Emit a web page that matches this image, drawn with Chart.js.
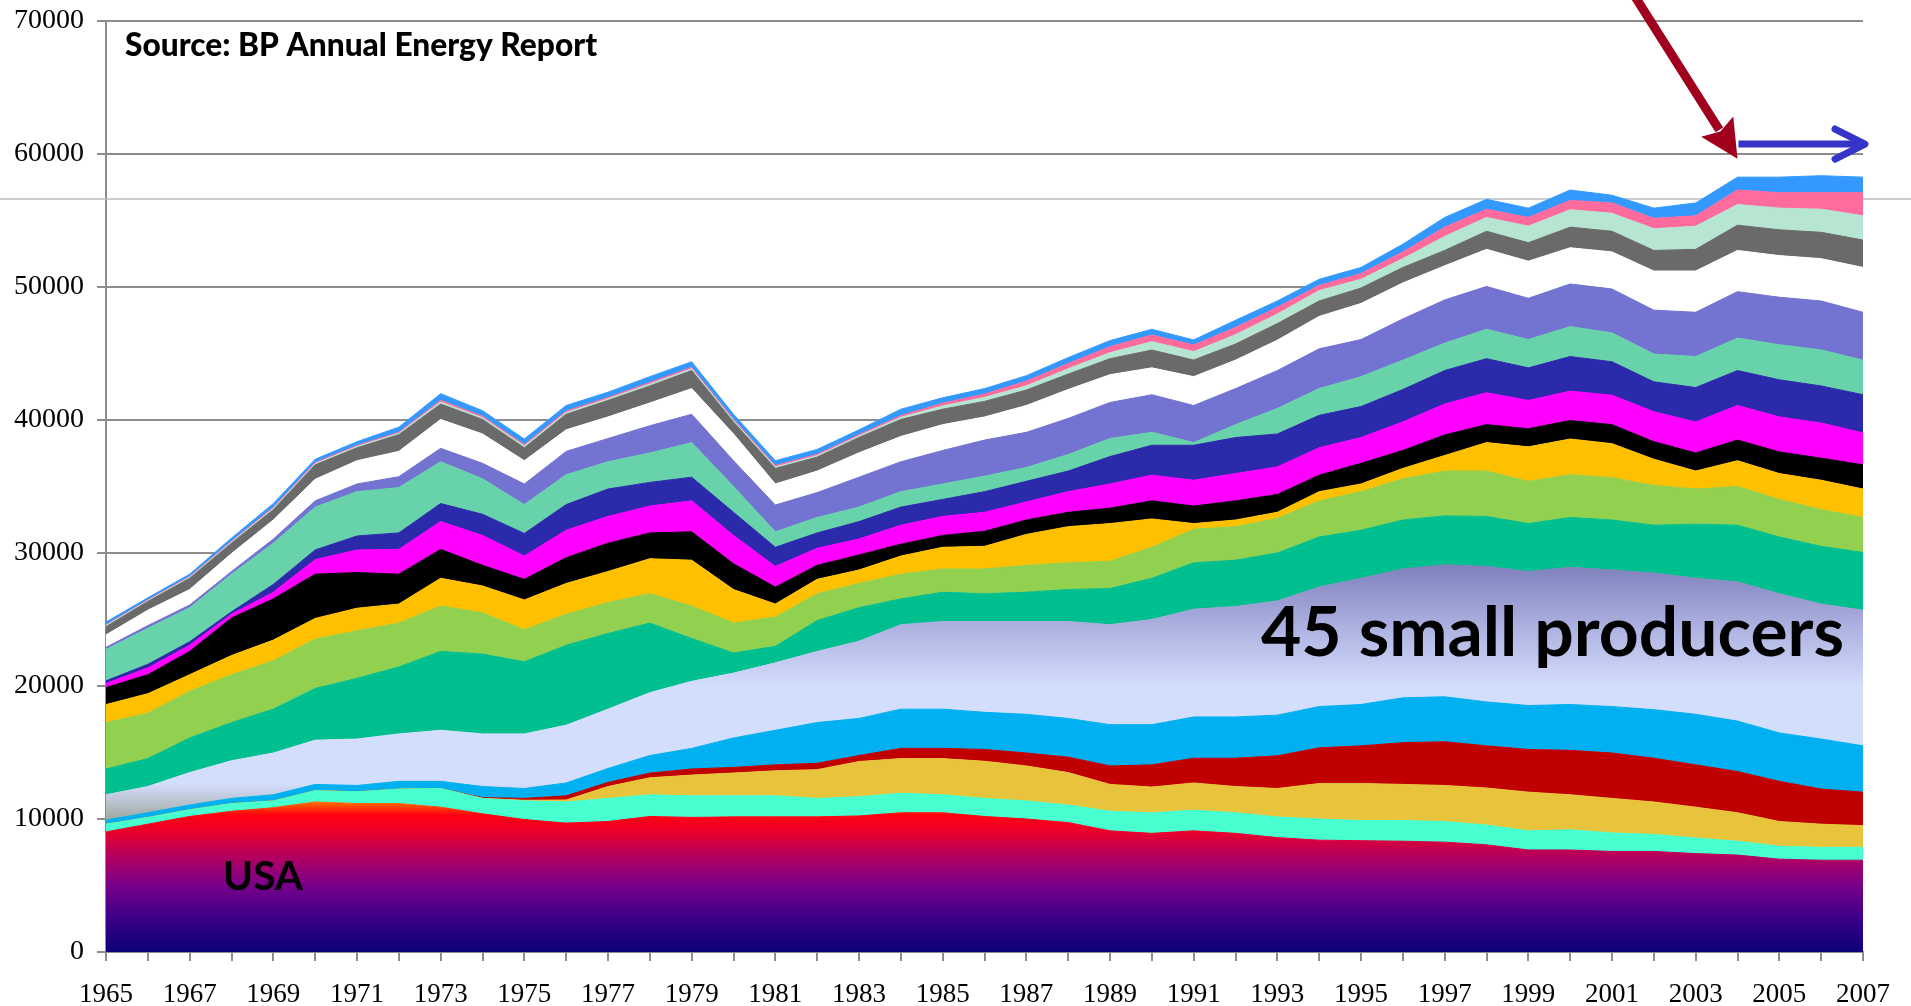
<!DOCTYPE html>
<html>
<head>
<meta charset="utf-8">
<title>Oil production by country 1965-2007</title>
<script src="https://cdn.jsdelivr.net/npm/chart.js@4.4.1/dist/chart.umd.min.js"></script>
<style>
  html, body { margin: 0; padding: 0; background: #fff; }
  #wrap { width: 1911px; height: 1006px; position: relative; }
</style>
</head>
<body>
<div id="wrap"><canvas id="oilChart"></canvas></div>
<script>
// thousand barrels per day, stacked bottom to top
const years = ['1965','1966','1967','1968','1969','1970','1971','1972','1973','1974',
               '1975','1976','1977','1978','1979','1980','1981','1982','1983','1984',
               '1985','1986','1987','1988','1989','1990','1991','1992','1993','1994',
               '1995','1996','1997','1998','1999','2000','2001','2002','2003','2004',
               '2005','2006','2007'];

const usa = [9030, 9610, 10190, 10580, 10850, 11280, 11160, 11160, 10890, 10390,
             9960, 9690, 9810, 10190, 10120, 10160, 10160, 10160, 10230, 10470,
             10470, 10190, 10000, 9730, 9110, 8920, 9110, 8920, 8600, 8410,
             8370, 8330, 8260, 8060, 7670, 7670, 7560, 7560, 7400, 7290,
             6980, 6900, 6900];
const indonesia = [580, 510, 510, 580, 510, 850, 890, 1090, 1400, 1160,
                   1400, 1590, 1740, 1630, 1620, 1580, 1580, 1390, 1440, 1470,
                   1350, 1360, 1360, 1320, 1470, 1550, 1550, 1550, 1550, 1590,
                   1510, 1550, 1550, 1480, 1440, 1520, 1390, 1280, 1170, 1040,
                   970, 970, 970];
const uk = [0, 0, 0, 0, 0, 0, 0, 0, 0, 0,
            50, 150, 890, 1280, 1560, 1720, 1880, 2160, 2650, 2600,
            2720, 2790, 2630, 2440, 2020, 1930, 2050, 1970, 2140, 2670,
            2790, 2720, 2710, 2790, 2910, 2630, 2600, 2440, 2320, 2140,
            1860, 1740, 1630];
const norway = [0, 0, 0, 0, 0, 0, 0, 0, 0, 60,
                140, 310, 310, 350, 460, 420, 450, 480, 450, 770,
                770, 890, 970, 1160, 1390, 1670, 1860, 2130, 2460, 2680,
                2830, 3140, 3290, 3170, 3210, 3340, 3410, 3290, 3180, 3100,
                3020, 2640, 2520];
const mexico = [310, 350, 350, 390, 460, 470, 470, 580, 540, 830,
                740, 970, 1050, 1320, 1550, 2210, 2600, 3060, 2790, 2950,
                2950, 2790, 2910, 2910, 3100, 3020, 3100, 3100, 3060, 3100,
                3110, 3370, 3380, 3300, 3300, 3450, 3490, 3650, 3800, 3790,
                3640, 3760, 3480];
const smallProducers = [1900, 1970, 2440, 2830, 3140, 3330, 3490, 3570, 3840, 3960,
                        4110, 4340, 4460, 4730, 5040, 4880, 5070, 5350, 5810, 6350,
                        6590, 6830, 6980, 7290, 7520, 7910, 8110, 8300, 8590, 8990,
                        9490, 9690, 9920, 10190, 10080, 10310, 10270, 10270, 10230, 10470,
                        10470, 10150, 10200];
const iran = [1940, 2100, 2600, 2870, 3300, 3880, 4570, 5030, 5930, 6000,
              5420, 6010, 5690, 5230, 3220, 1510, 1240, 2320, 2520, 1940,
              2200, 2090, 2200, 2400, 2720, 3100, 3480, 3490, 3600, 3760,
              3610, 3680, 3680, 3760, 3600, 3750, 3760, 3600, 4070, 4260,
              4260, 4340, 4340];
const venezuela = [3490, 3410, 3520, 3600, 3640, 3720, 3570, 3300, 3410, 3100,
                   2410, 2330, 2330, 2210, 2440, 2250, 2210, 2020, 1820, 1860,
                   1750, 1860, 2020, 2010, 2050, 2330, 2520, 2520, 2600, 2720,
                   2900, 3100, 3370, 3410, 3180, 3220, 3180, 2990, 2640, 2910,
                   2830, 2760, 2630];
const iraq = [1350, 1470, 1240, 1440, 1550, 1550, 1700, 1430, 2090, 2020,
              2240, 2320, 2330, 2630, 3450, 2520, 970, 1080, 1010, 1360,
              1630, 1700, 2330, 2720, 2830, 2130, 430, 500, 460, 690,
              580, 780, 1170, 2140, 2590, 2680, 2560, 1970, 1350, 1940,
              1940, 2210, 2140];
const libya = [1280, 1430, 1750, 2830, 3100, 3330, 2680, 2250, 2170, 1550,
               1550, 1940, 2130, 1940, 2130, 1940, 1280, 1050, 1130, 890,
               890, 1130, 1080, 1080, 1160, 1360, 1320, 1440, 1340, 1240,
               1550, 1350, 1550, 1350, 1360, 1390, 1430, 1320, 1360, 1550,
               1630, 1660, 1820];
const nigeria = [310, 510, 460, 270, 500, 1090, 1700, 1860, 2090, 2250,
                 1750, 2060, 2010, 2020, 2330, 2130, 1550, 1280, 1200, 1430,
                 1430, 1430, 1360, 1550, 1820, 1930, 1940, 2050, 2070, 2060,
                 1940, 2140, 2320, 2400, 2130, 2210, 2210, 2250, 2330, 2600,
                 2630, 2640, 2400];
const uae = [200, 270, 270, 190, 590, 730, 1050, 1240, 1360, 1590,
             1700, 1930, 2060, 1780, 1780, 1740, 1440, 1160, 1310, 1360,
             1280, 1550, 1550, 1550, 2060, 2250, 2630, 2710, 2480, 2440,
             2330, 2440, 2520, 2560, 2450, 2600, 2520, 2250, 2590, 2630,
             2790, 2790, 2870];
const kuwait = [2360, 2710, 2560, 2830, 3100, 3220, 3330, 3410, 3140, 2670,
                2170, 2250, 2050, 2210, 2600, 1940, 1160, 1160, 1090, 1160,
                1160, 1170, 1040, 1240, 1360, 970, 200, 970, 1920, 2010,
                2250, 2210, 2060, 2210, 2130, 2250, 2170, 2090, 2330, 2440,
                2640, 2710, 2600];
const china = [160, 200, 200, 200, 310, 470, 580, 820, 1010, 1160,
               1550, 1750, 1750, 2050, 2130, 1940, 2020, 1870, 2250, 2250,
               2520, 2710, 2640, 2720, 2710, 2830, 2790, 2710, 2850, 2990,
               2790, 3100, 3250, 3220, 3100, 3210, 3300, 3300, 3330, 3490,
               3570, 3680, 3600];
const canada = [930, 1160, 1160, 1350, 1430, 1620, 1750, 1900, 2170, 2210,
                1750, 1620, 1620, 1710, 1930, 2010, 1580, 1620, 1830, 1900,
                1940, 1740, 2020, 2170, 2090, 2020, 2170, 2140, 2280, 2440,
                2710, 2710, 2560, 2790, 2790, 2720, 2790, 2940, 3100, 3100,
                3130, 3180, 3370];
const algeria = [620, 660, 850, 780, 780, 1090, 970, 1260, 1160, 1090,
                 970, 1170, 1240, 1280, 1360, 900, 1170, 1050, 1160, 1280,
                 1160, 1170, 1160, 1160, 1200, 1340, 1250, 1210, 1250, 1160,
                 1160, 1160, 1160, 1360, 1390, 1550, 1550, 1550, 1630, 1900,
                 1940, 1980, 2060];
const brazil = [80, 60, 70, 80, 90, 90, 100, 100, 150, 130,
                130, 130, 120, 140, 130, 110, 110, 110, 110, 160,
                250, 300, 320, 400, 450, 630, 630, 700, 720, 780,
                660, 660, 1050, 1040, 1240, 1310, 1350, 1630, 1740, 1550,
                1630, 1740, 1820];
const angola = [60, 50, 60, 70, 80, 80, 80, 80, 130, 110,
                110, 110, 100, 120, 110, 100, 100, 100, 100, 130,
                200, 250, 350, 400, 450, 500, 500, 550, 500, 390,
                430, 510, 700, 620, 660, 700, 780, 780, 780, 1090,
                1160, 1240, 1740];
const qatar = [210, 160, 180, 230, 290, 250, 280, 380, 500, 420,
               420, 420, 400, 440, 420, 370, 370, 370, 360, 480,
               410, 410, 410, 440, 460, 430, 380, 540, 480, 460,
               460, 580, 730, 740, 700, 780, 580, 770, 970, 970,
               1170, 1280, 1170];

// vertical colour ramps, given as [value, colour] along the y axis
const usaRamp = [[0, '#0c0079'], [2500, '#3a0088'], [5000, '#78008a'], [7200, '#b4005e'],
                 [9000, '#e8002c'], [10300, '#ff0010'], [11300, '#ff7000']];
const smallRamp = [[9800, '#9aa49a'], [12600, '#d3ddfc'], [20000, '#d3ddfc'],
                   [24500, '#acb1e0'], [29000, '#7f81bc']];

function rampFill(chart, ramp, fallback) {
  const area = chart.chartArea;
  if (!area) return fallback;
  const y = chart.scales.y;
  const y0 = y.getPixelForValue(ramp[0][0]);
  const y1 = y.getPixelForValue(ramp[ramp.length - 1][0]);
  const g = chart.ctx.createLinearGradient(0, y0, 0, y1);
  ramp.forEach(([v, col]) => {
    g.addColorStop(Math.min(1, Math.max(0, (y.getPixelForValue(v) - y0) / (y1 - y0))), col);
  });
  return g;
}

const usaFill = (c) => rampFill(c.chart, usaRamp, '#c00040');
const smallFill = (c) => rampFill(c.chart, smallRamp, '#c8d0f0');

const layers = [
  { label: 'USA', data: usa, color: usaFill },
  { label: 'Indonesia', data: indonesia, color: '#48ffd0' },
  { label: 'UK', data: uk, color: '#e8c33c' },
  { label: 'Norway', data: norway, color: '#c00000' },
  { label: 'Mexico', data: mexico, color: '#00b0f0' },
  { label: '45 small producers', data: smallProducers, color: smallFill },
  { label: 'Iran', data: iran, color: '#00bf8f' },
  { label: 'Venezuela', data: venezuela, color: '#92d050' },
  { label: 'Iraq', data: iraq, color: '#ffc000' },
  { label: 'Libya', data: libya, color: '#000000' },
  { label: 'Nigeria', data: nigeria, color: '#ff00ff' },
  { label: 'UAE', data: uae, color: '#2a2aaa' },
  { label: 'Kuwait', data: kuwait, color: '#68d2ab' },
  { label: 'China', data: china, color: '#7373d2' },
  { label: 'Canada', data: canada, color: '#ffffff' },
  { label: 'Algeria', data: algeria, color: '#6a6a6a' },
  { label: 'Brazil', data: brazil, color: '#b6e5d2' },
  { label: 'Angola', data: angola, color: '#ff6b9d' },
  { label: 'Qatar', data: qatar, color: '#3399ff' }
];

function fitText(c, text, x, baseline, width, weight, family) {
  c.font = weight + ' 40px ' + family;
  const size = 40 * width / c.measureText(text).width;
  c.font = weight + ' ' + size.toFixed(1) + 'px ' + family;
  c.fillStyle = '#000';
  c.textAlign = 'left';
  c.textBaseline = 'alphabetic';
  c.fillText(text, x, baseline);
}

const decorations = {
  id: 'decorations',
  beforeDatasetsDraw(chart) {
    const c = chart.ctx;
    c.save();
    c.strokeStyle = '#bdbdbd';
    c.lineWidth = 1.5;
    c.beginPath();
    c.moveTo(0, 199);
    c.lineTo(chart.width, 199);
    c.stroke();
    c.restore();
  },
  afterDatasetsDraw(chart) {
    const c = chart.ctx;
    const x = chart.scales.x, y = chart.scales.y;
    c.save();

    fitText(c, 'Source: BP Annual Energy Report', 125, 56, 472, '900', 'Lato, "DejaVu Sans", sans-serif');
    fitText(c, 'USA', 223, 890, 80, 'bold', 'Lato, "DejaVu Sans", sans-serif');
    fitText(c, '45 small producers', 1261, 656, 583, 'bold', 'Lato, "DejaVu Sans", sans-serif');

    // red arrow coming down onto the 2004 peak
    const tipX = x.getPixelForValue(39), tipY = y.getPixelForValue(59650);
    const startX = x.getPixelForValue(36.45), startY = -10;
    const dx = tipX - startX, dy = tipY - startY, len = Math.hypot(dx, dy);
    const ux = dx / len, uy = dy / len;
    const headLen = 38, headHalf = 19;
    const bx = tipX - ux * headLen, by = tipY - uy * headLen;
    c.strokeStyle = '#a0001e';
    c.fillStyle = '#a0001e';
    c.lineWidth = 9;
    c.lineCap = 'butt';
    c.beginPath();
    c.moveTo(startX, startY);
    c.lineTo(bx + ux * 4, by + uy * 4);
    c.stroke();
    c.beginPath();
    c.moveTo(tipX, tipY);
    c.lineTo(bx - uy * headHalf, by + ux * headHalf);
    c.lineTo(bx + ux * 6, by + uy * 6);
    c.lineTo(bx + uy * headHalf, by - ux * headHalf);
    c.closePath();
    c.fill();

    // blue arrow pointing along the plateau
    const ay = y.getPixelForValue(60750);
    const ax0 = x.getPixelForValue(39) + 1, ax1 = x.getPixelForValue(42) + 2;
    c.strokeStyle = '#3434c8';
    c.lineWidth = 7;
    c.beginPath();
    c.moveTo(ax0, ay);
    c.lineTo(ax1 - 3, ay);
    c.stroke();
    c.lineCap = 'round';
    c.lineJoin = 'round';
    c.beginPath();
    c.moveTo(ax1 - 30, ay - 15);
    c.lineTo(ax1, ay);
    c.lineTo(ax1 - 30, ay + 15);
    c.stroke();

    c.restore();
  }
};

const ctx = document.getElementById('oilChart').getContext('2d');

const oilChart = new Chart(ctx, {
  type: 'line',
  data: {
    labels: years,
    datasets: layers.map((l, i) => ({
      label: l.label,
      data: l.data,
      fill: i === 0 ? 'origin' : '-1',
      backgroundColor: l.color,
      borderColor: l.color,
      borderWidth: 1,
      pointRadius: 0,
      pointHoverRadius: 0,
      tension: 0
    }))
  },
  options: {
    responsive: true,
    maintainAspectRatio: false,
    animation: false,
    devicePixelRatio: 1,
    layout: { padding: { top: 21, right: 48, left: 0, bottom: 0 } },
    plugins: {
      legend: { display: false },
      tooltip: { enabled: false }
    },
    scales: {
      x: {
        afterFit: (s) => { s.height = 54; },
        grid: { drawOnChartArea: false, drawTicks: true, tickLength: 9, color: '#8c8c8c', lineWidth: 2 },
        border: { color: '#8c8c8c', width: 2 },
        ticks: {
          autoSkip: false,
          maxRotation: 0,
          padding: 18,
          color: '#000',
          font: { family: '"Liberation Serif", "Times New Roman", serif', size: 27 },
          callback: function(value, index) {
            return index % 2 === 0 ? this.getLabelForValue(value) : '';
          }
        }
      },
      y: {
        stacked: true,
        min: 0,
        max: 70000,
        afterFit: (s) => { s.width = 106; s.paddingTop = 0; s.paddingBottom = 0; },
        grid: { color: '#8c8c8c', lineWidth: 2, tickLength: 9 },
        border: { color: '#8c8c8c', width: 2 },
        ticks: {
          stepSize: 10000,
          padding: 13,
          color: '#000',
          font: { family: '"Liberation Serif", "Times New Roman", serif', size: 28 },
          callback: (v) => String(v)
        }
      }
    }
  },
  plugins: [decorations]
});
</script>
</body>
</html>
